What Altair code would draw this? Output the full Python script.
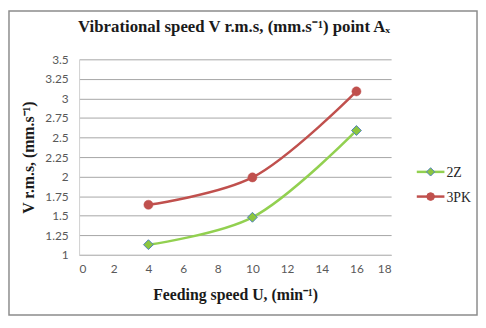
import altair as alt
import pandas as pd

# ---- data ----
FEED = [4, 10, 16]
SERIES = ["2Z", "3PK"]
V_2Z = [1.13, 1.48, 2.59]
V_3PK = [1.64, 1.99, 3.09]
X_TICKS = [0, 2, 4, 6, 8, 10, 12, 14, 16, 18]
Y_TICKS = [1, 1.25, 1.5, 1.75, 2, 2.25, 2.5, 2.75, 3, 3.25, 3.5]

TITLE = "Vibrational speed V r.m.s, (mm.s\u207b\u00b9) point A\u2093"
X_TITLE = "Feeding speed U, (min\u207b\u00b9)"
Y_TITLE = "V r.m.s, (mm.s\u207b\u00b9)"

GREEN = "#92d050"
GREEN_FILL = "#8cc63f"
BLUE = "#4f81bd"
RED = "#c0504d"

rows = []
for name, vals in zip(SERIES, [V_2Z, V_3PK]):
    for f, v in zip(FEED, vals):
        rows.append({"feed": f, "v": v, "series": name})
df = pd.DataFrame(rows)

W, H = 316, 198
SERIF = "Liberation Serif"

x_enc = alt.X(
    "feed:Q",
    scale=alt.Scale(domain=[0, 18], nice=False, zero=False),
    axis=alt.Axis(
        values=X_TICKS, grid=False, ticks=False, domainColor="#bfbfbf",
        labelOverlap=False,
        labelFont="Lato", labelFontSize=12, labelColor="#595959", labelPadding=9,
        title=X_TITLE, titleFont=SERIF, titleFontSize=16, titleFontWeight="bold",
        titleColor="#1a1a1a", titlePadding=12,
    ),
)
y_enc = alt.Y(
    "v:Q",
    scale=alt.Scale(domain=[1, 3.5], nice=False, zero=False),
    axis=alt.Axis(
        values=Y_TICKS, format=".2~f", grid=True, gridColor="#a6a6a6", ticks=False,
        domainColor="#d0d0d0", labelOverlap=False,
        labelFont="Lato", labelFontSize=12, labelColor="#595959", labelPadding=11,
        title=Y_TITLE, titleFont=SERIF, titleFontSize=16, titleFontWeight="bold",
        titleColor="#1a1a1a", titlePadding=8,
    ),
)

base = alt.Chart(df)

lines = base.mark_line(interpolate="catmull-rom", strokeWidth=2.5).encode(
    x=x_enc, y=y_enc,
    color=alt.Color("series:N", scale=alt.Scale(domain=SERIES, range=[GREEN, RED]), legend=None),
)

pts_2z = base.transform_filter(alt.datum.series == "2Z").mark_point(
    shape="diamond", filled=True, fill=GREEN_FILL, stroke=BLUE, strokeWidth=1,
    size=100, opacity=1,
).encode(x=x_enc, y=y_enc)

pts_3pk = base.transform_filter(alt.datum.series == "3PK").mark_point(
    shape="circle", filled=True, fill=RED, stroke=RED, strokeWidth=0.5,
    size=85, opacity=1,
).encode(x=x_enc, y=y_enc)

one = pd.DataFrame({"k": [0]})

border = alt.Chart(one).mark_rect(fillOpacity=0, stroke="#8c8c8c", strokeWidth=1.5).encode(
    x=alt.value(-71), x2=alt.value(W + 87), y=alt.value(-49), y2=alt.value(H + 61)
)

title = alt.Chart(one).mark_text(
    font=SERIF, fontSize=17, fontWeight="bold", color="#1a1a1a",
    align="center", baseline="alphabetic",
).encode(x=alt.value(157), y=alt.value(-28), text=alt.value(TITLE))


def legend_item(name, ypos, line_color, shape, fill, stroke, size):
    d = pd.DataFrame({"series": [name]})
    c = alt.Chart(d)
    rule = c.mark_rule(color=line_color, strokeWidth=2.5).encode(
        x=alt.value(342), x2=alt.value(370), y=alt.value(ypos)
    )
    pt = c.mark_point(shape=shape, filled=True, fill=fill, stroke=stroke,
                      strokeWidth=1, size=size, opacity=1).encode(
        x=alt.value(356), y=alt.value(ypos)
    )
    txt = c.mark_text(font=SERIF, fontSize=14, color="#262626", align="left",
                      baseline="middle").encode(
        x=alt.value(372), y=alt.value(ypos + 1), text="series:N"
    )
    return [rule, pt, txt]


leg = legend_item("2Z", 114, GREEN, "diamond", GREEN_FILL, BLUE, 70) + \
    legend_item("3PK", 139, RED, "circle", RED, RED, 60)

chart = alt.layer(border, lines, pts_2z, pts_3pk, title, *leg).properties(
    width=W, height=H,
    padding={"left": 72, "top": 50, "right": 88, "bottom": 62},
    autosize=alt.AutoSizeParams(type="none"),
    background="white",
).configure_view(stroke=None)

chart.save("out.html", embed_options={"renderer": "svg", "actions": False})
